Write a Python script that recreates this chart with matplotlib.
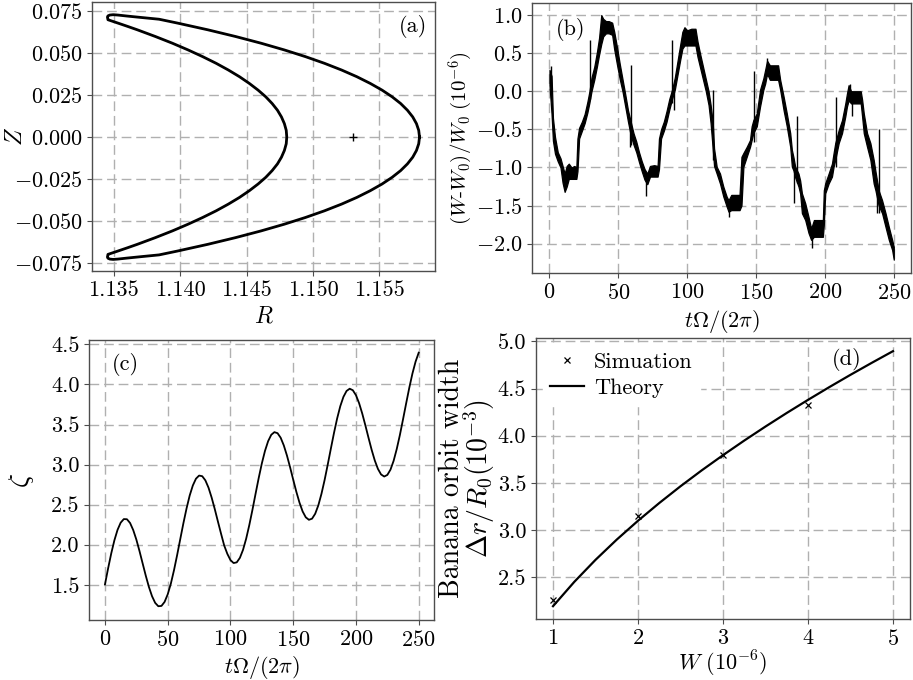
import numpy as np
import matplotlib
matplotlib.use("Agg")
import matplotlib.pyplot as plt

plt.rcParams['font.family'] = 'serif'
plt.rcParams['font.serif'] = ['cmr10']
plt.rcParams['mathtext.fontset'] = 'cm'
plt.rcParams['axes.formatter.use_mathtext'] = True
plt.rcParams['font.size'] = 16

# ---------------- data ----------------
# (a) banana orbit, upper half: outer nose -> tip -> inner nose
orbit_R = [1.15803, 1.15797, 1.15780, 1.15752, 1.15712, 1.15661, 1.15597, 1.15521,
           1.15432, 1.15331, 1.15216, 1.15087, 1.14943, 1.14784, 1.14609, 1.14417,
           1.14208, 1.13980, 1.13841, 1.13700, 1.13600, 1.13530, 1.13495, 1.13470,
           1.13456, 1.13452, 1.13454,
           1.13456, 1.13531, 1.13605, 1.13677, 1.13813, 1.13941, 1.14059, 1.14169,
           1.14271, 1.14363, 1.14447, 1.14521, 1.14587, 1.14645, 1.14693, 1.14733,
           1.14763, 1.14785, 1.14799, 1.14803]
orbit_Z = [0.000, 0.004, 0.008, 0.012, 0.016, 0.020, 0.024, 0.028,
           0.032, 0.036, 0.040, 0.044, 0.048, 0.052, 0.056, 0.060,
           0.064, 0.068, 0.0703, 0.0714, 0.0722, 0.0728, 0.0730, 0.0728,
           0.0723, 0.0716, 0.0708,
           0.0700, 0.0680, 0.0660, 0.064, 0.060, 0.056, 0.052, 0.048,
           0.044, 0.040, 0.036, 0.032, 0.028, 0.024, 0.020, 0.016,
           0.012, 0.008, 0.004, 0.000]
axis_R = [1.15305]
axis_Z = [0.0]

# (b) relative energy error: band (lower/upper envelope) and spikes
t_b = [0, 1.5, 2.5, 4, 6, 8, 9.5, 11, 12.5, 14, 16, 18, 19.5, 20.3, 21.5, 23.5, 25.5,
       27.5, 29, 30.5, 32.5, 34.5, 36, 37.6, 39, 41, 43, 45.5, 47, 49, 51, 53, 55, 57,
       59, 61, 63, 65, 67, 69, 71, 73, 76, 78.5, 79.5, 81, 83, 85, 87, 89, 91, 93, 95,
       96.5, 98, 100, 103, 106, 107.5, 109.5, 111.5, 113.5, 115.5, 117, 118.5, 119.5,
       121.4, 123.8, 126.2, 128.6, 130, 132, 135, 138, 139.4, 140.8, 143.2, 145.6,
       146.8, 148, 150.5, 152.9, 155.3, 156.6, 158, 160, 163, 166, 167.5, 170, 172.3,
       174.8, 176, 177.2, 178.4, 180.8, 182, 183.3, 185.7, 188.1, 190, 192, 195, 198.5,
       199.2, 200.2, 202.7, 205.1, 206.3, 207.5, 210, 212.4, 214.8, 216, 217.2, 219,
       222, 226, 227, 228.2, 230.6, 233, 235.4, 236.7, 239, 241.5, 244, 246.4, 248.8, 250]
lo_b = [0.08, -0.30, -0.65, -0.82, -0.92, -1.00, -1.20, -1.32, -1.25, -1.15, -1.15,
        -1.15, -1.15, -1.05, -0.62, -0.52, -0.42, -0.28, -0.15, 0.00, 0.15, 0.33, 0.48,
        0.62, 0.72, 0.76, 0.76, 0.74, 0.55, 0.35, 0.16, 0.00, -0.20, -0.40, -0.58, -0.70,
        -0.80, -0.93, -1.05, -1.16, -1.22, -1.12, -1.12, -1.12, -1.02, -0.62, -0.52,
        -0.40, -0.24, -0.10, 0.02, 0.22, 0.42, 0.56, 0.60, 0.60, 0.60, 0.60, 0.45, 0.30,
        0.15, 0.00, -0.18, -0.42, -0.75, -0.98, -1.08, -1.21, -1.38, -1.51, -1.58, -1.56,
        -1.56, -1.56, -1.50, -0.99, -0.86, -0.73, -0.64, -0.55, -0.46, -0.20, 0.02, 0.10,
        0.23, 0.15, 0.15, 0.15, 0.02, -0.25, -0.46, -0.73, -0.99, -1.04, -1.13, -1.25,
        -1.34, -1.60, -1.69, -1.86, -1.95, -1.91, -1.91, -1.91, -1.75, -1.34, -1.21,
        -1.12, -0.99, -0.90, -0.68, -0.55, -0.33, -0.20, -0.12, -0.16, -0.16, -0.16,
        -0.33, -0.55, -0.73, -0.90, -1.21, -1.30, -1.50, -1.60, -1.78, -1.95, -2.08, -2.21]
hi_b = [0.28, 0.20, -0.35, -0.60, -0.80, -0.88, -0.98, -1.08, -0.98, -0.95, -1.00,
        -0.98, -1.00, -0.62, -0.48, -0.40, -0.30, -0.14, 0.00, 0.18, 0.32, 0.52, 0.70,
        1.00, 0.95, 0.92, 0.92, 0.90, 0.78, 0.58, 0.36, 0.16, -0.04, -0.25, -0.40, -0.55,
        -0.66, -0.80, -0.92, -1.02, -1.08, -0.98, -0.97, -0.98, -0.62, -0.50, -0.40,
        -0.26, -0.10, 0.02, 0.18, 0.40, 0.62, 0.78, 0.84, 0.80, 0.82, 0.82, 0.65, 0.48,
        0.32, 0.16, 0.00, -0.18, -0.40, -0.75, -0.99, -1.08, -1.25, -1.38, -1.43, -1.36,
        -1.36, -1.36, -0.86, -0.81, -0.73, -0.64, -0.46, -0.38, -0.29, 0.02, 0.17, 0.28,
        0.40, 0.34, 0.34, 0.34, 0.15, -0.07, -0.29, -0.55, -0.77, -0.87, -0.99, -1.08,
        -1.17, -1.34, -1.47, -1.65, -1.80, -1.69, -1.69, -1.69, -1.30, -1.21, -1.08,
        -0.95, -0.81, -0.68, -0.51, -0.38, -0.16, -0.03, 0.08, 0.00, 0.00, 0.00, -0.11,
        -0.29, -0.55, -0.68, -0.90, -1.05, -1.30, -1.43, -1.60, -1.78, -1.95, -2.04]
spike_t = [1.2, 29.3, 58.3, 59.5, 70.4, 88.6, 90.3, 118.4, 130.7, 148.5, 158.3,
           177.8, 179.5, 190.8, 207.9, 218.0, 219.7, 237.9, 239.1]
spike_lo = [0.05, -0.10, -0.73, -0.70, -1.38, -0.15, -0.25, -0.90, -1.65, -0.66, 0.20,
            -1.47, -1.20, -2.06, -1.00, -0.05, -0.33, -1.60, -1.60]
spike_hi = [0.33, 0.67, -0.40, 0.34, -1.10, 0.67, 0.00, 0.02, -1.45, 0.26, 0.43,
            -1.00, -0.33, -1.85, -0.07, 0.10, 0.00, -1.20, -0.49]

# (c) zeta versus time (read every 2.5 time units)
t_c = [i * 2.5 for i in range(101)]
zeta_c = [1.505, 1.705, 1.892, 2.055, 2.185, 2.275, 2.320, 2.318, 2.271, 2.183,
          2.064, 1.921, 1.767, 1.614, 1.473, 1.357, 1.274, 1.232, 1.236, 1.286,
          1.381, 1.515, 1.682, 1.871, 2.071, 2.269, 2.453, 2.614, 2.739, 2.824,
          2.863, 2.855, 2.803, 2.712, 2.588, 2.444, 2.289, 2.137, 1.990, 1.886,
          1.808, 1.771, 1.780, 1.836, 1.936, 2.075, 2.245, 2.435, 2.636, 2.833,
          3.015, 3.171, 3.292, 3.372, 3.405, 3.392, 3.335, 3.239, 3.113, 2.967,
          2.811, 2.660, 2.525, 2.415, 2.342, 2.311, 2.325, 2.386, 2.491, 2.635,
          2.807, 3.000, 3.200, 3.396, 3.576, 3.729, 3.845, 3.919, 3.947, 3.928,
          3.866, 3.766, 3.637, 3.489, 3.334, 3.184, 3.051, 2.946, 2.877, 2.851,
          2.871, 2.937, 3.047, 3.195, 3.370, 3.565, 3.765, 3.960, 4.137, 4.285,
          4.397]

# (d) banana orbit width
W_sim = [1, 2, 3, 4]
width_sim = [2.26, 3.15, 3.80, 4.33]
W_th = [1.00, 1.25, 1.50, 1.75, 2.00, 2.25, 2.50, 2.75, 3.00, 3.25, 3.50, 3.75, 4.00,
        4.25, 4.50, 4.75, 5.00]
width_th = [2.190, 2.448, 2.682, 2.897, 3.097, 3.285, 3.463, 3.632, 3.793, 3.948, 4.097,
            4.241, 4.380, 4.515, 4.646, 4.773, 4.897]

# ---------------- figure ----------------
fig = plt.figure(figsize=(9.13, 6.8), dpi=100)
axa = fig.add_axes([0.1011, 0.6015, 0.3754, 0.3956])
axb = fig.add_axes([0.5830, 0.5985, 0.4148, 0.3970])
axc = fig.add_axes([0.0978, 0.0882, 0.3780, 0.4118])
axd = fig.add_axes([0.5871, 0.0897, 0.4096, 0.4137])

for ax in (axa, axb, axc, axd):
    ax.grid(True, color='#b0b0b0', linestyle=(0, (7, 3.5)), linewidth=1.0)
    ax.set_axisbelow(True)
    for s in ax.spines.values():
        s.set_color('0.3')
        s.set_linewidth(1.0)
    ax.tick_params(labelsize=16, color='0.3')

# (a)
Rfull = list(orbit_R) + list(orbit_R[::-1])
Zfull = list(orbit_Z) + [-z for z in orbit_Z[::-1]]
axa.plot(Rfull, Zfull, color='k', lw=2.0, solid_joinstyle='round')
axa.plot(axis_R, axis_Z, '+', color='k', ms=6, mew=1.0)
axa.set_xlim(1.13338, 1.1592)
axa.set_ylim(-0.0799, 0.0806)
axa.set_xticks([1.135, 1.140, 1.145, 1.150, 1.155])
axa.set_yticks([-0.075, -0.050, -0.025, 0.0, 0.025, 0.050, 0.075])
axa.set_xticklabels(['1.135', '1.140', '1.145', '1.150', '1.155'])
axa.set_yticklabels(['$-0.075$', '$-0.050$', '$-0.025$', '$0.000$', '$0.025$', '$0.050$', '$0.075$'])
axa.set_xlabel('$R$', fontsize=17)
axa.set_ylabel('$Z$', fontsize=17)
axa.xaxis.set_label_coords(0.5, -0.126)
axa.yaxis.set_label_coords(-0.19, 0.5)
axa.text(0.976, 0.95, '(a)', transform=axa.transAxes, ha='right', va='top', fontsize=16)

# (b)
axb.fill_between(t_b, lo_b, hi_b, color='k', lw=0.9)
axb.vlines(spike_t, spike_lo, spike_hi, color='k', lw=1.0)
axb.set_xlim(-12.5, 262.5)
axb.set_ylim(-2.385, 1.157)
axb.set_xticks([0, 50, 100, 150, 200, 250])
axb.set_yticks([-2.0, -1.5, -1.0, -0.5, 0.0, 0.5, 1.0])
axb.set_yticklabels(['$-2.0$', '$-1.5$', '$-1.0$', '$-0.5$', '$0.0$', '$0.5$', '$1.0$'])
axb.set_xlabel(r'$t\mathit{\Omega}/(2\pi)$', fontsize=16)
axb.set_ylabel(r'$(W$-$W_0)/W_0\ (10^{-6})$', fontsize=15)
axb.xaxis.set_label_coords(0.5, -0.130)
axb.yaxis.set_label_coords(-0.150, 0.5)
axb.text(0.063, 0.945, '(b)', transform=axb.transAxes, ha='left', va='top', fontsize=16)

# (c)
axc.plot(t_c, zeta_c, color='k', lw=1.3)
axc.set_xlim(-12.5, 262.5)
axc.set_ylim(1.06, 4.555)
axc.set_xticks([0, 50, 100, 150, 200, 250])
axc.set_yticks([1.5, 2.0, 2.5, 3.0, 3.5, 4.0, 4.5])
axc.set_yticklabels(['1.5', '2.0', '2.5', '3.0', '3.5', '4.0', '4.5'])
axc.set_xlabel(r'$t\mathit{\Omega}/(2\pi)$', fontsize=16)
axc.set_ylabel(r'$\zeta$', fontsize=20)
axc.xaxis.set_label_coords(0.5, -0.122)
axc.yaxis.set_label_coords(-0.155, 0.5)
axc.text(0.065, 0.952, '(c)', transform=axc.transAxes, ha='left', va='top', fontsize=16)

# (d)
axd.plot(W_sim, width_sim, 'x', color='k', ms=5, mew=0.9, label='Simuation')
axd.plot(W_th, width_th, '-', color='k', lw=1.6, label='Theory')
axd.set_xlim(0.8, 5.2)
axd.set_ylim(2.054, 5.04)
axd.set_xticks([1, 2, 3, 4, 5])
axd.set_yticks([2.5, 3.0, 3.5, 4.0, 4.5, 5.0])
axd.set_yticklabels(['2.5', '3.0', '3.5', '4.0', '4.5', '5.0'])
axd.set_xlabel(r'$W\ (10^{-6})$', fontsize=16)
axd.set_ylabel('Banana orbit width\n' + r'$\mathit{\Delta} r/R_0(10^{-3})$', fontsize=20,
               linespacing=0.85)
axd.xaxis.set_label_coords(0.5, -0.105)
axd.yaxis.set_label_coords(-0.105, 0.5)
leg = axd.legend(loc='upper left', fontsize=16, frameon=True, framealpha=1.0,
                 facecolor='white', edgecolor='white', borderaxespad=0.3,
                 handlelength=1.5, handletextpad=0.45, borderpad=0.35, labelspacing=0.3)
axd.text(0.871, 0.963, '(d)', transform=axd.transAxes, ha='right', va='top', fontsize=16)

fig.savefig('out.png', dpi=100)
